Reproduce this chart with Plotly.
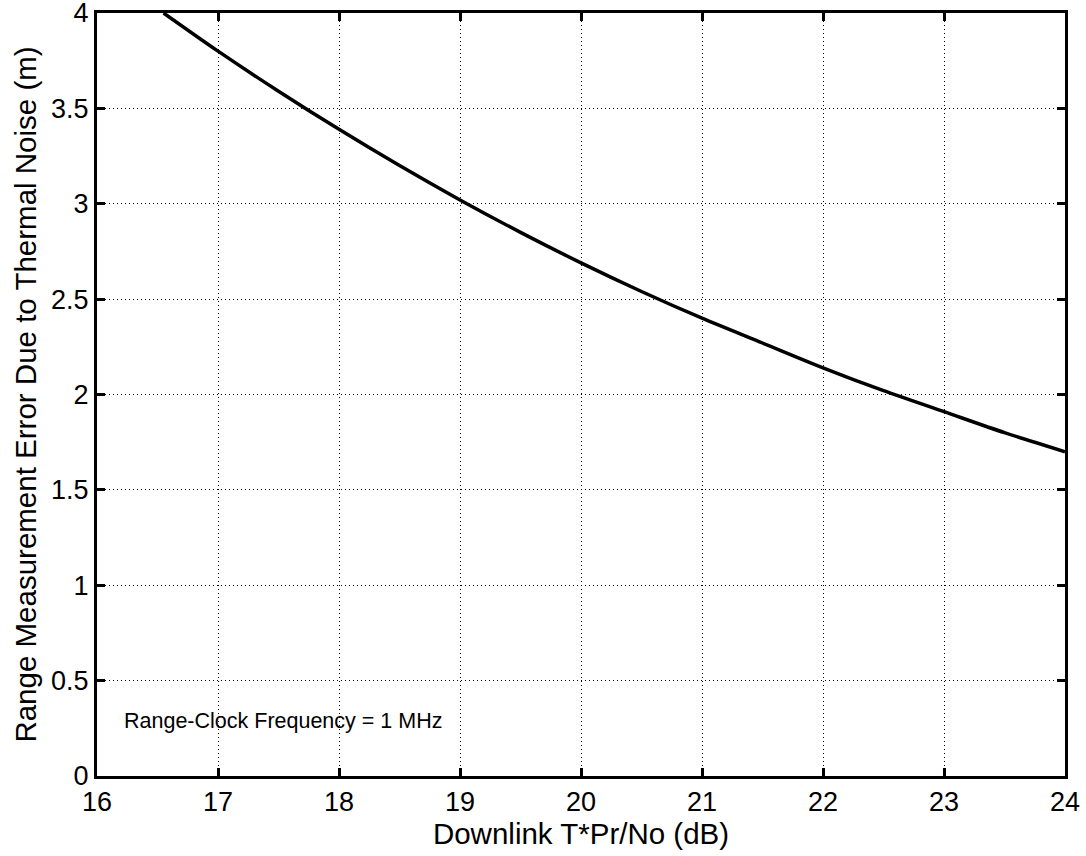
import plotly.graph_objects as go

# Data
snr_db = [16.55, 17.0, 17.5, 18.0, 18.5, 19.0, 19.5, 20.0, 20.5, 21.0,
          21.5, 22.0, 22.5, 23.0, 23.5, 24.0]
range_err_m = [4.00, 3.80, 3.59, 3.39, 3.20, 3.02, 2.85, 2.69, 2.54, 2.40,
               2.27, 2.14, 2.02, 1.91, 1.80, 1.70]

x_ticks = [16, 17, 18, 19, 20, 21, 22, 23, 24]
y_ticks = [0, 0.5, 1, 1.5, 2, 2.5, 3, 3.5, 4]
y_tick_labels = ["0", "0.5", "1", "1.5", "2", "2.5", "3", "3.5", "4"]

FONT = "Liberation Sans, Arial, sans-serif"

fig = go.Figure()
fig.add_trace(go.Scatter(
    x=snr_db, y=range_err_m, mode="lines",
    line=dict(color="black", width=3.5, shape="spline", smoothing=0.8),
    showlegend=False, hoverinfo="skip"))

axis_common = dict(
    showline=True, linecolor="black", linewidth=3, mirror="ticks",
    ticks="inside", ticklen=8, tickwidth=3, tickcolor="black",
    showgrid=True, gridcolor="black", gridwidth=1, griddash="1px,3px",
    zeroline=False, automargin=False, ticklabeloverflow="allow",
    tickfont=dict(family=FONT, size=27, color="black"),
)

fig.update_xaxes(
    range=[16, 24], tickvals=x_ticks, ticktext=[str(v) for v in x_ticks],
    title=dict(text="Downlink T*Pr/No (dB)", font=dict(family=FONT, size=29.5, color="black"),
               standoff=2),
    **axis_common)
fig.update_yaxes(
    range=[0, 4], tickvals=y_ticks, ticktext=y_tick_labels,
    title=dict(text="Range Measurement Error Due to Thermal Noise (m)",
               font=dict(family=FONT, size=29.5, color="black"), standoff=6),
    **axis_common)

fig.add_annotation(
    x=16.21, y=0.288, xref="x", yref="y", text="Range-Clock Frequency = 1 MHz",
    showarrow=False, xanchor="left", yanchor="middle",
    font=dict(family=FONT, size=21.5, color="black"))

fig.update_layout(
    width=1086, height=856,
    margin=dict(l=97, r=21, t=13, b=80),
    paper_bgcolor="white", plot_bgcolor="white",
    font=dict(family=FONT, color="black"),
)

fig.write_html(
    "out.html",
    config={"displayModeBar": False},
    post_script="document.body.style.margin='0';document.body.style.overflow='hidden';")
